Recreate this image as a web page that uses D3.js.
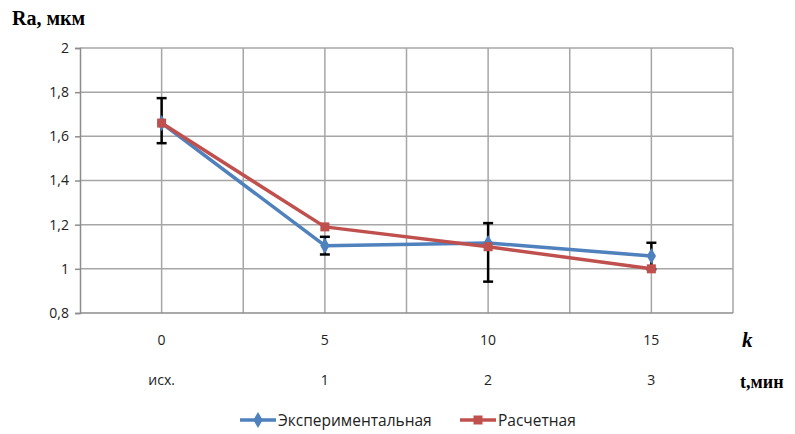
<!DOCTYPE html>
<html>
<head>
<meta charset="utf-8">
<script src="https://cdn.jsdelivr.net/npm/d3@7"></script>
<style>
  html, body { margin: 0; padding: 0; background: #fff; }
  svg { display: block; }
</style>
</head>
<body>
<svg id="chart" width="795" height="434"></svg>
<script>
// Surface roughness Ra vs. number of passes k / time t
const kLabels = ["0", "5", "10", "15"];
const tLabels = ["исх.", "1", "2", "3"];
const experimental = [1.66, 1.105, 1.117, 1.058];
const calculated = [1.66, 1.19, 1.10, 1.00];
const errPlus = [0.113, 0.04, 0.09, 0.06];
const errMinus = [0.091, 0.04, 0.175, 0.06];
const yTicks = [0.8, 1, 1.2, 1.4, 1.6, 1.8, 2];

(function () {
const svg = d3.select("#chart");
const plotLeft = 80, plotRight = 733, plotTop = 48, plotBottom = 313;
const labelFont = "'Open Sans', sans-serif";

const x = d3.scaleBand().domain(kLabels).range([plotLeft, plotRight]).paddingInner(0).paddingOuter(0);
const y = d3.scaleLinear().domain([0.8, 2]).range([plotBottom, plotTop]);
const cx = k => x(k) + x.bandwidth() / 2;

const gridColor = "#a6a6a6";
const fmt = v => String(v).replace(".", ",");

// horizontal grid
svg.append("g").selectAll("line").data(yTicks.slice(1)).join("line")
  .attr("x1", plotLeft).attr("x2", plotRight)
  .attr("y1", d => y(d)).attr("y2", d => y(d))
  .attr("stroke", gridColor).attr("stroke-width", 1.5);

// vertical grid: category boundaries and centres
const vLines = [];
kLabels.forEach(k => { vLines.push(x(k)); vLines.push(cx(k)); });
vLines.push(plotRight);
svg.append("g").selectAll("line").data(vLines.slice(1)).join("line")
  .attr("x1", d => d).attr("x2", d => d)
  .attr("y1", plotTop).attr("y2", plotBottom)
  .attr("stroke", gridColor).attr("stroke-width", 1.5);

// y axis
const yAxis = d3.axisLeft(y).tickValues(yTicks).tickFormat(fmt).tickSize(5).tickPadding(6);
const gy = svg.append("g").attr("transform", `translate(${plotLeft},0)`).call(yAxis);
gy.select(".domain").attr("stroke", "#8c8c8c").attr("stroke-width", 1.5);
gy.selectAll(".tick line").attr("stroke", "#8c8c8c").attr("stroke-width", 1.5);
gy.selectAll("text").attr("font-family", labelFont).attr("font-size", 14).attr("fill", "#222");

// x axis line
svg.append("line").attr("x1", plotLeft).attr("x2", plotRight).attr("y1", plotBottom).attr("y2", plotBottom)
  .attr("stroke", "#8c8c8c").attr("stroke-width", 1.5);

// category labels (two rows)
svg.append("g").selectAll("text").data(kLabels).join("text")
  .attr("x", d => cx(d)).attr("y", 345).attr("text-anchor", "middle")
  .attr("font-family", labelFont).attr("font-size", 14).attr("fill", "#222")
  .text(d => d);
svg.append("g").selectAll("text").data(tLabels).join("text")
  .attr("x", (d, i) => cx(kLabels[i])).attr("y", 385).attr("text-anchor", "middle")
  .attr("font-family", labelFont).attr("font-size", 14).attr("fill", "#222")
  .text(d => d);

// axis titles
svg.append("text").attr("x", 12).attr("y", 25)
  .attr("font-family", "'Liberation Serif', serif").attr("font-weight", "bold").attr("font-size", 20)
  .text("Ra, мкм");
svg.append("text").attr("x", 742).attr("y", 347)
  .attr("font-family", "'Liberation Serif', serif").attr("font-weight", "bold").attr("font-style", "italic").attr("font-size", 21)
  .text("k");
svg.append("text").attr("x", 740).attr("y", 388)
  .attr("font-family", "'Liberation Serif', serif").attr("font-weight", "bold").attr("font-size", 18)
  .text("t,мин");

const blue = "#4f81bd", red = "#c0504d";
const line = d3.line().x((d, i) => cx(kLabels[i])).y(d => y(d));

// experimental series
svg.append("path").datum(experimental).attr("d", line)
  .attr("fill", "none").attr("stroke", blue).attr("stroke-width", 3.5).attr("stroke-linejoin", "round");

// error bars
const eb = svg.append("g").attr("stroke", "#000").attr("stroke-width", 2.5);
experimental.forEach((v, i) => {
  const xx = cx(kLabels[i]);
  const y1 = y(v + errPlus[i]), y2 = y(v - errMinus[i]);
  eb.append("line").attr("x1", xx).attr("x2", xx).attr("y1", y1).attr("y2", y2);
  eb.append("line").attr("x1", xx - 5).attr("x2", xx + 5).attr("y1", y1).attr("y2", y1);
  eb.append("line").attr("x1", xx - 5).attr("x2", xx + 5).attr("y1", y2).attr("y2", y2);
});

svg.append("g").selectAll("path").data(experimental).join("path")
  .attr("d", d3.symbol(d3.symbolDiamond, 75))
  .attr("transform", (d, i) => `translate(${cx(kLabels[i])},${y(d)})`)
  .attr("fill", blue);

// calculated series
svg.append("path").datum(calculated).attr("d", line)
  .attr("fill", "none").attr("stroke", red).attr("stroke-width", 3.5).attr("stroke-linejoin", "round");
svg.append("g").selectAll("rect").data(calculated).join("rect")
  .attr("x", (d, i) => cx(kLabels[i]) - 4.5).attr("y", d => y(d) - 4.5)
  .attr("width", 9).attr("height", 9).attr("fill", red);

// legend
const legend = [
  { name: "Экспериментальная", color: blue, shape: "diamond", x: 240 },
  { name: "Расчетная", color: red, shape: "square", x: 460 }
];
const lg = svg.append("g");
legend.forEach(l => {
  const ly = 420;
  lg.append("line").attr("x1", l.x).attr("x2", l.x + 36).attr("y1", ly).attr("y2", ly)
    .attr("stroke", l.color).attr("stroke-width", 3.5);
  if (l.shape === "diamond") {
    lg.append("path").attr("d", d3.symbol(d3.symbolDiamond, 75))
      .attr("transform", `translate(${l.x + 18},${ly})`).attr("fill", l.color);
  } else {
    lg.append("rect").attr("x", l.x + 13.5).attr("y", ly - 4.5).attr("width", 9).attr("height", 9).attr("fill", l.color);
  }
  lg.append("text").attr("x", l.x + 38).attr("y", ly + 5.5)
    .attr("font-family", labelFont).attr("font-size", 15.5).attr("fill", "#222")
    .text(l.name);
});
})();
</script>
</body>
</html>
